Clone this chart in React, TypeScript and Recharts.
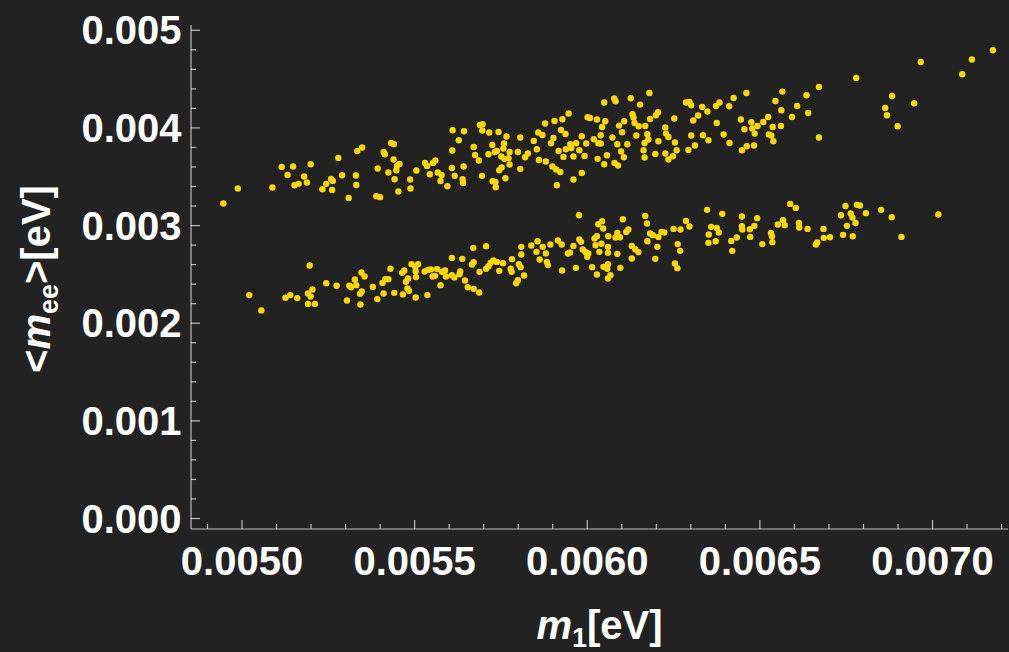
import { Scatter, ScatterChart, XAxis, YAxis } from "recharts";

// Masses in meV (axes are labelled in eV). Upper band and lower band of the scan.
const upperM1 = [
  4.946, 4.988, 5.088, 5.115, 5.132, 5.148, 5.152, 5.164, 5.180, 5.188,
  5.199, 5.233, 5.244, 5.258, 5.261, 5.263, 5.279, 5.290, 5.309, 5.330,
  5.331, 5.334, 5.348, 5.389, 5.400, 5.393, 5.410, 5.414, 5.424, 5.432,
  5.440, 5.439, 5.442, 5.447, 5.449, 5.456, 5.453, 5.487, 5.488, 5.505,
  5.530, 5.536, 5.544, 5.553, 5.560, 5.567, 5.575, 5.578, 5.595, 5.608,
  5.609, 5.610, 5.616, 5.628, 5.639, 5.640, 5.642, 5.643, 5.671, 5.675,
  5.686, 5.689, 5.697, 5.696, 5.695, 5.714, 5.716, 5.725, 5.726, 5.732,
  5.735, 5.734, 5.738, 5.743, 5.745, 5.751, 5.752, 5.757, 5.759, 5.766,
  5.763, 5.760, 5.772, 5.775, 5.775, 5.799, 5.806, 5.806, 5.820, 5.828,
  5.845, 5.854, 5.858, 5.860, 5.870, 5.878, 5.880, 5.895, 5.899, 5.902,
  5.905, 5.910, 5.912, 5.917, 5.922, 5.924, 5.928, 5.931, 5.937, 5.938,
  5.946, 5.951, 5.954, 5.960, 5.960, 5.968, 5.977, 5.984, 5.984, 5.992,
  5.997, 6.001, 6.008, 6.019, 6.028, 6.030, 6.032,
  6.049, 6.043, 6.052, 6.039, 6.039, 6.049, 6.057, 6.073, 6.078, 6.082,
  6.079, 6.089, 6.087, 6.092, 6.098, 6.101, 6.107, 6.106, 6.116, 6.126,
  6.131, 6.134, 6.137, 6.142, 6.149, 6.153, 6.163, 6.166, 6.166, 6.168,
  6.174, 6.177, 6.180, 6.182, 6.197, 6.199, 6.205, 6.206, 6.226, 6.226,
  6.228, 6.235, 6.235, 6.252, 6.254, 6.248, 6.259, 6.286, 6.296, 6.301,
  6.293, 6.301, 6.307, 6.312, 6.321, 6.333, 6.335, 6.348, 6.351, 6.373,
  6.375, 6.383, 6.395, 6.411, 6.412, 6.424, 6.445, 6.448, 6.455, 6.461,
  6.462, 6.475, 6.478, 6.483, 6.485, 6.493, 6.510, 6.524, 6.526, 6.533,
  6.537, 6.539, 6.545, 6.561, 6.562, 6.565, 6.593, 6.608, 6.635, 6.640,
  6.671, 6.671, 6.779, 6.863, 6.868, 6.883, 6.899, 6.947, 6.966, 7.086,
  7.114, 7.175,
];

const upperMee = [
  3.226, 3.380, 3.390, 3.601, 3.519, 3.605, 3.413, 3.427, 3.502, 3.441,
  3.628, 3.372, 3.427, 3.478, 3.365, 3.457, 3.693, 3.516, 3.283, 3.513,
  3.416, 3.764, 3.799, 3.301, 3.291, 3.584, 3.754, 3.731, 3.543, 3.846,
  3.833, 3.676, 3.475, 3.567, 3.611, 3.631, 3.349, 3.472, 3.380, 3.564,
  3.642, 3.611, 3.526, 3.642, 3.666, 3.543, 3.457, 3.519, 3.403, 3.590,
  3.769, 3.976, 3.509, 3.874, 3.475, 3.437, 3.605, 3.966, 3.805, 3.723,
  3.666, 4.031, 4.038, 3.973, 3.509, 3.731, 3.953, 3.826, 3.454, 3.754,
  3.393, 3.447, 3.764, 3.959, 3.567, 3.707, 3.595, 3.789, 3.840, 3.912,
  3.485, 3.683, 3.690, 3.754, 3.625, 3.754, 3.902, 3.580, 3.700, 3.738,
  3.867, 3.782, 3.953, 3.672, 3.928, 4.045, 3.656, 3.843, 3.605, 3.897,
  4.071, 3.574, 3.413, 3.764, 3.549, 3.979, 4.089, 3.703, 3.938, 3.782,
  4.147, 3.833, 3.795, 3.707, 3.472, 3.843, 3.772, 3.915, 3.539, 3.713,
  3.840, 4.109, 4.102, 3.884, 4.086, 3.683, 3.843,
  4.260, 4.010, 4.068, 3.925, 3.840, 3.628, 3.720, 3.902, 4.301, 4.273,
  3.642, 3.615, 3.833, 4.024, 3.758, 3.956, 4.068, 3.700, 3.833, 4.304,
  4.140, 4.106, 4.051, 3.922, 4.017, 4.239, 3.772, 3.697, 3.846, 4.020,
  3.935, 3.881, 4.358, 4.092, 3.734, 4.130, 4.160, 3.864, 4.004, 3.738,
  3.942, 3.908, 3.676, 4.096, 3.850, 3.710, 3.772, 4.260, 4.266, 4.232,
  3.775, 3.922, 4.076, 3.820, 4.127, 4.215, 3.925, 4.168, 3.874, 4.225,
  4.051, 4.260, 3.932, 4.222, 3.846, 4.307, 4.086, 3.772, 3.987, 4.358,
  3.813, 4.058, 3.994, 3.820, 3.942, 4.020, 4.061, 4.112, 3.932, 3.922,
  4.010, 3.864, 4.276, 4.020, 4.181, 4.372, 4.112, 4.225, 4.334, 4.153,
  3.902, 4.419, 4.512, 4.204, 4.130, 4.327, 4.017, 4.253, 4.675, 4.549,
  4.700, 4.795,
];

const lowerM1 = [
  5.021, 5.056, 5.126, 5.140, 5.160, 5.196, 5.191, 5.199, 5.204, 5.191,
  5.211, 5.244, 5.274, 5.304, 5.311, 5.316, 5.327, 5.331, 5.346, 5.355,
  5.342, 5.347, 5.343, 5.379, 5.392, 5.407, 5.415, 5.424, 5.410, 5.430,
  5.441, 5.464, 5.470, 5.466, 5.475, 5.481, 5.479, 5.484, 5.491, 5.502,
  5.510, 5.503, 5.504, 5.503, 5.529, 5.539, 5.537, 5.547, 5.552, 5.559,
  5.565, 5.575, 5.579, 5.591, 5.588, 5.608, 5.608, 5.615, 5.632, 5.630,
  5.638, 5.646, 5.654, 5.666, 5.671, 5.670, 5.671, 5.687, 5.688, 5.707,
  5.707, 5.714, 5.720, 5.728, 5.738, 5.745, 5.756, 5.778, 5.781, 5.782,
  5.794, 5.799, 5.802, 5.807, 5.809, 5.809, 5.817, 5.838, 5.853, 5.856,
  5.862, 5.871, 5.880, 5.883, 5.886, 5.893, 5.915, 5.926, 5.927, 5.944,
  5.950, 5.960, 5.967, 5.976, 5.977, 5.982, 5.987, 5.995, 6.000, 6.003,
  6.014, 6.021, 6.024, 6.028, 6.028, 6.032, 6.035,
  6.043, 6.046, 6.061, 6.060, 6.060, 6.060, 6.058, 6.067, 6.060, 6.041,
  6.047, 6.082, 6.087, 6.095, 6.087, 6.096, 6.103, 6.113, 6.119, 6.129,
  6.139, 6.148, 6.129, 6.168, 6.173, 6.182, 6.190, 6.174, 6.197, 6.203,
  6.206, 6.215, 6.223, 6.250, 6.262, 6.269, 6.254, 6.261, 6.270, 6.286,
  6.296, 6.347, 6.352, 6.351, 6.359, 6.372, 6.375, 6.381, 6.391, 6.417,
  6.420, 6.433, 6.448, 6.448, 6.449, 6.471, 6.472, 6.484, 6.492, 6.507,
  6.532, 6.535, 6.536, 6.552, 6.567, 6.572, 6.588, 6.604, 6.613, 6.614,
  6.638, 6.662, 6.666, 6.684, 6.685, 6.703, 6.735, 6.741, 6.748, 6.752,
  6.763, 6.768, 6.769, 6.777, 6.781, 6.790, 6.807, 6.851, 6.882, 6.910,
  7.017,
];

const lowerMee = [
  2.288, 2.131, 2.260, 2.288, 2.257, 2.591, 2.305, 2.274, 2.346, 2.198,
  2.198, 2.410, 2.383, 2.233, 2.383, 2.369, 2.448, 2.390, 2.520, 2.479,
  2.301, 2.325, 2.192, 2.372, 2.247, 2.413, 2.451, 2.451, 2.305, 2.557,
  2.311, 2.516, 2.540, 2.295, 2.424, 2.458, 2.356, 2.332, 2.605, 2.577,
  2.605, 2.533, 2.472, 2.264, 2.530, 2.546, 2.288, 2.551, 2.479, 2.485,
  2.554, 2.390, 2.526, 2.479, 2.540, 2.669, 2.492, 2.469, 2.530, 2.502,
  2.659, 2.438, 2.369, 2.602, 2.625, 2.772, 2.352, 2.315, 2.526, 2.789,
  2.557, 2.584, 2.618, 2.643, 2.628, 2.536, 2.615, 2.557, 2.526, 2.656,
  2.410, 2.441, 2.605, 2.574, 2.704, 2.782, 2.489, 2.796, 2.731, 2.840,
  2.653, 2.782, 2.714, 2.628, 2.595, 2.806, 2.847, 2.806, 2.540, 2.714,
  2.725, 2.792, 2.567, 3.106, 2.858, 2.833, 2.755, 2.728, 2.680, 2.714,
  2.574, 2.868, 2.799, 2.891, 2.499, 3.014, 2.731,
  3.045, 2.970, 2.891, 2.782, 2.720, 2.605, 2.557, 2.492, 2.458, 2.813,
  2.577, 2.878, 2.925, 2.881, 2.710, 2.567, 3.065, 2.935, 2.960, 2.792,
  2.758, 2.728, 2.663, 3.099, 3.021, 2.919, 2.902, 2.840, 2.659, 2.782,
  2.884, 2.935, 2.929, 2.966, 2.810, 2.741, 2.612, 2.564, 2.960, 3.048,
  2.991, 3.161, 2.909, 2.823, 2.987, 2.840, 2.976, 2.929, 3.120, 2.843,
  2.741, 2.878, 3.093, 2.994, 2.960, 2.963, 2.884, 2.997, 3.076, 2.810,
  2.925, 2.891, 2.830, 3.011, 3.055, 3.004, 3.222, 3.181, 3.027, 2.980,
  2.966, 2.806, 2.827, 2.966, 2.874, 2.881, 3.106, 2.905, 3.201, 2.997,
  3.124, 3.083, 2.891, 3.027, 3.212, 3.206, 3.127, 3.161, 3.086, 2.884,
  3.113,
];

// Frame ticks (meV). Labelled majors, unlabelled minors in between.
const X_MAJOR = [5.0, 5.5, 6.0, 6.5, 7.0];
const Y_MAJOR = [0, 1, 2, 3, 4, 5];
const X_TICKS = Array.from({ length: 24 }, (_, i) => Math.round((4.9 + i * 0.1) * 10) / 10);
const Y_TICKS = Array.from({ length: 26 }, (_, i) => Math.round(i * 0.2 * 10) / 10);

const X_DOMAIN: [number, number] = [4.8523, 7.2186];
const Y_DOMAIN: [number, number] = [-0.1075, 5.054];

const BG = "#222222";
const FRAME = "#bdbdbd";
const DOT = "#ffd700";
const FONT = "'Liberation Sans', Arial, sans-serif";
const MAJOR_LEN = 9;
const MINOR_LEN = 5;

const zip = (xs: number[], ys: number[]) => xs.map((m1, i) => ({ m1, mee: ys[i] }));
const upperBand = zip(upperM1, upperMee);
const lowerBand = zip(lowerM1, lowerMee);

const isMajor = (v: number, majors: number[]) => majors.some((m) => Math.abs(m - v) < 1e-6);
const toEv = (v: number, digits: number) => (v / 1000).toFixed(digits);

const labelStyle = { fill: "#ffffff", fontFamily: FONT, fontWeight: 700, fontSize: 40 };

function BottomTick(props: any) {
  const { x, y, payload } = props;
  const major = isMajor(payload.value, X_MAJOR);
  return (
    <g>
      <line x1={x} x2={x} y1={y} y2={y - (major ? MAJOR_LEN : MINOR_LEN)} stroke={FRAME} strokeWidth={1.2} />
      {major && (
        <text x={x} y={y + 46} textAnchor="middle" {...labelStyle}>
          {toEv(payload.value, 4)}
        </text>
      )}
    </g>
  );
}

function TopTick(props: any) {
  const { x, y, payload } = props;
  const major = isMajor(payload.value, X_MAJOR);
  return <line x1={x} x2={x} y1={y} y2={y + (major ? MAJOR_LEN : MINOR_LEN)} stroke={FRAME} strokeWidth={1.2} />;
}

function LeftTick(props: any) {
  const { x, y, payload } = props;
  const major = isMajor(payload.value, Y_MAJOR);
  return (
    <g>
      <line x1={x} x2={x + (major ? MAJOR_LEN : MINOR_LEN)} y1={y} y2={y} stroke={FRAME} strokeWidth={1.2} />
      {major && (
        <text x={x - 9.5} y={y + 14} textAnchor="end" {...labelStyle}>
          {toEv(payload.value, 3)}
        </text>
      )}
    </g>
  );
}

function RightTick(props: any) {
  const { x, y, payload } = props;
  const major = isMajor(payload.value, Y_MAJOR);
  return <line x1={x} x2={x - (major ? MAJOR_LEN : MINOR_LEN)} y1={y} y2={y} stroke={FRAME} strokeWidth={1.2} />;
}

function XTitle(props: any) {
  const vb = props.viewBox;
  return (
    <text x={vb.x + vb.width / 2} y={vb.y + 110} textAnchor="middle" {...labelStyle}>
      <tspan fontStyle="italic">m</tspan>
      <tspan fontSize={27} dy={8}>1</tspan>
      <tspan dy={-8}>[eV]</tspan>
    </text>
  );
}

function YTitle(props: any) {
  const vb = props.viewBox;
  const cx = 50;
  const cy = vb.y + vb.height / 2 + 2;
  return (
    <text x={cx} y={cy} textAnchor="middle" transform={`rotate(-90, ${cx}, ${cy})`} {...labelStyle}>
      <tspan>{"<"}</tspan>
      <tspan fontStyle="italic">m</tspan>
      <tspan fontSize={27} dy={8}>ee</tspan>
      <tspan dy={-8}>{">[eV]"}</tspan>
    </text>
  );
}

const Dot = (p: any) => <circle cx={p.cx} cy={p.cy} r={3.2} fill={DOT} />;

const axisLine = { stroke: FRAME, strokeWidth: 1.2 };

export default function App() {
  return (
    <div style={{ position: "absolute", left: 0, top: 0, width: 1009, height: 652, background: BG }}>
      <ScatterChart width={1009} height={652} margin={{ top: 25, right: 1, bottom: 0, left: 0 }}>
        <XAxis
          xAxisId="b"
          type="number"
          dataKey="m1"
          domain={X_DOMAIN}
          allowDataOverflow
          ticks={X_TICKS}
          interval={0}
          tickSize={0}
          tickMargin={0}
          tickLine={false}
          axisLine={axisLine}
          tick={(p: any) => <BottomTick {...p} />}
          height={123}
          label={<XTitle />}
        />
        <XAxis
          xAxisId="t"
          orientation="top"
          type="number"
          domain={X_DOMAIN}
          allowDataOverflow
          ticks={X_TICKS}
          interval={0}
          tickSize={0}
          tickMargin={0}
          tickLine={false}
          axisLine={axisLine}
          tick={(p: any) => <TopTick {...p} />}
          height={0}
        />
        <YAxis
          yAxisId="l"
          type="number"
          dataKey="mee"
          domain={Y_DOMAIN}
          allowDataOverflow
          ticks={Y_TICKS}
          interval={0}
          tickSize={0}
          tickMargin={0}
          tickLine={false}
          axisLine={axisLine}
          tick={(p: any) => <LeftTick {...p} />}
          width={191}
          label={<YTitle />}
        />
        <YAxis
          yAxisId="r"
          orientation="right"
          type="number"
          domain={Y_DOMAIN}
          allowDataOverflow
          ticks={Y_TICKS}
          interval={0}
          tickSize={0}
          tickMargin={0}
          tickLine={false}
          axisLine={axisLine}
          tick={(p: any) => <RightTick {...p} />}
          width={0}
        />
        <Scatter data={upperBand} xAxisId="b" yAxisId="l" fill={DOT} shape={Dot} isAnimationActive={false} />
        <Scatter data={lowerBand} xAxisId="b" yAxisId="l" fill={DOT} shape={Dot} isAnimationActive={false} />
      </ScatterChart>
    </div>
  );
}
